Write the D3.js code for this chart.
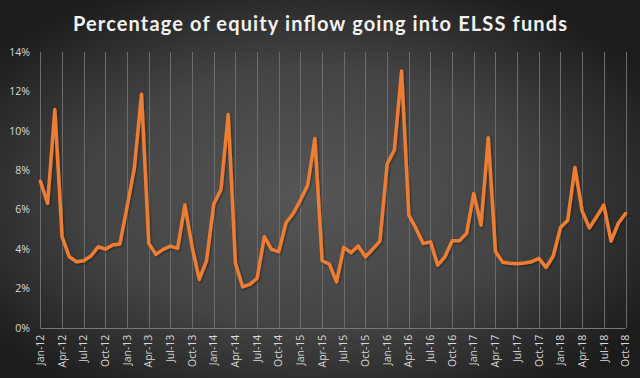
<!DOCTYPE html>
<html>
<head>
<meta charset="utf-8">
<script src="https://cdn.jsdelivr.net/npm/d3@7"></script>
<style>
  body { margin: 0; background: #222; }
  svg { display: block; }
</style>
</head>
<body>
<script>
// months from Jan-12 to Oct-18
var monthNames = ['Jan', 'Feb', 'Mar', 'Apr', 'May', 'Jun', 'Jul', 'Aug', 'Sep', 'Oct', 'Nov', 'Dec'];
var months = [];
for (var yr = 12; yr <= 18; yr++) {
  for (var m = 0; m < 12; m++) {
    if (yr === 18 && m > 9) break;
    months.push(monthNames[m] + '-' + yr);
  }
}

// share of equity inflow going to ELSS (%)
var share = [
  7.44, 6.31, 11.08, 4.62, 3.60, 3.35, 3.40, 3.64, 4.11, 3.99, 4.20, 4.25,
  6.14, 8.09, 11.86, 4.28, 3.72, 3.98, 4.14, 4.03, 6.23, 4.11, 2.45, 3.40,
  6.28, 7.02, 10.83, 3.27, 2.08, 2.20, 2.51, 4.62, 3.98, 3.86, 5.33, 5.80,
  6.48, 7.24, 9.61, 3.40, 3.23, 2.33, 4.08, 3.81, 4.15, 3.60, 3.99, 4.40,
  8.31, 9.02, 13.04, 5.72, 5.04, 4.28, 4.36, 3.18, 3.60, 4.41, 4.41, 4.79,
  6.82, 5.21, 9.64, 3.86, 3.32, 3.27, 3.25, 3.29, 3.35, 3.52, 3.06, 3.64,
  5.09, 5.46, 8.14, 5.92, 5.07, 5.63, 6.23, 4.40, 5.30, 5.80
];

var yTicks = [0, 2, 4, 6, 8, 10, 12, 14];
var title = 'Percentage of equity inflow going into ELSS funds';

var w = 640, h = 378;
var margin = { top: 52, right: 14.5, bottom: 50.3, left: 40.4 };

var svg = d3.select('body').append('svg')
  .attr('width', w)
  .attr('height', h);

var defs = svg.append('defs');
var grad = defs.append('radialGradient')
  .attr('id', 'bg')
  .attr('cx', '48%').attr('cy', '52%').attr('r', '62%');
grad.append('stop').attr('offset', '0%').attr('stop-color', '#565656');
grad.append('stop').attr('offset', '55%').attr('stop-color', '#444');
grad.append('stop').attr('offset', '100%').attr('stop-color', '#1c1c1c');

var shadow = defs.append('filter').attr('id', 'shadow')
  .attr('x', '-5%').attr('y', '-5%').attr('width', '110%').attr('height', '110%');
shadow.append('feDropShadow')
  .attr('dx', 1).attr('dy', 1).attr('stdDeviation', 1)
  .attr('flood-color', '#000').attr('flood-opacity', 0.45);

svg.append('rect')
  .attr('width', w).attr('height', h)
  .attr('fill', 'url(#bg)');

svg.append('text')
  .attr('x', w / 2)
  .attr('y', 31)
  .attr('text-anchor', 'middle')
  .attr('textLength', 494)
  .attr('lengthAdjust', 'spacing')
  .style('font-family', 'Lato, "Open Sans", sans-serif')
  .style('font-weight', 'bold')
  .style('font-size', '20px')
  .style('fill', '#f2f2f2')
  .text(title);

var x = d3.scaleLinear()
  .domain([0, months.length - 1])
  .range([margin.left, w - margin.right]);

var y = d3.scaleLinear()
  .domain([0, 14])
  .range([h - margin.bottom, margin.top]);

// vertical gridlines every quarter
var qIdx = d3.range(0, months.length, 3);

svg.append('g')
  .selectAll('line')
  .data(qIdx)
  .enter().append('line')
  .attr('x1', function(d) { return Math.round(x(d)) + 0.5; })
  .attr('x2', function(d) { return Math.round(x(d)) + 0.5; })
  .attr('y1', y(14))
  .attr('y2', y(0))
  .style('stroke', '#6c6c6c')
  .style('stroke-width', 1);

// baseline
svg.append('line')
  .attr('x1', x(0)).attr('x2', x(months.length - 1))
  .attr('y1', Math.round(y(0)) + 0.5).attr('y2', Math.round(y(0)) + 0.5)
  .style('stroke', '#777')
  .style('stroke-width', 1);

// y labels
var yAxis = d3.axisLeft(y)
  .tickValues(yTicks)
  .tickSize(0)
  .tickPadding(0)
  .tickFormat(function(d) { return d + '%'; });

var gy = svg.append('g')
  .attr('transform', 'translate(30,0)')
  .call(yAxis);
gy.select('.domain').remove();
gy.selectAll('text')
  .style('font-family', '"Open Sans", sans-serif')
  .style('font-size', '10.5px')
  .style('fill', '#d9d9d9');

// x labels, rotated
svg.append('g')
  .selectAll('text')
  .data(qIdx)
  .enter().append('text')
  .attr('transform', function(d) {
    return 'translate(' + x(d) + ',' + (y(0) + 7) + ') rotate(-90)';
  })
  .attr('text-anchor', 'end')
  .attr('dy', '0.35em')
  .style('font-family', '"Open Sans", sans-serif')
  .style('font-size', '10.5px')
  .style('fill', '#d9d9d9')
  .text(function(d) { return months[d]; });

var line = d3.line()
  .x(function(d, i) { return x(i); })
  .y(function(d) { return y(d); });

svg.append('path')
  .datum(share)
  .attr('d', line)
  .attr('filter', 'url(#shadow)')
  .style('fill', 'none')
  .style('stroke', '#ED7D31')
  .style('stroke-width', 3.5)
  .style('stroke-linejoin', 'round')
  .style('stroke-linecap', 'round');
</script>
</body>
</html>
